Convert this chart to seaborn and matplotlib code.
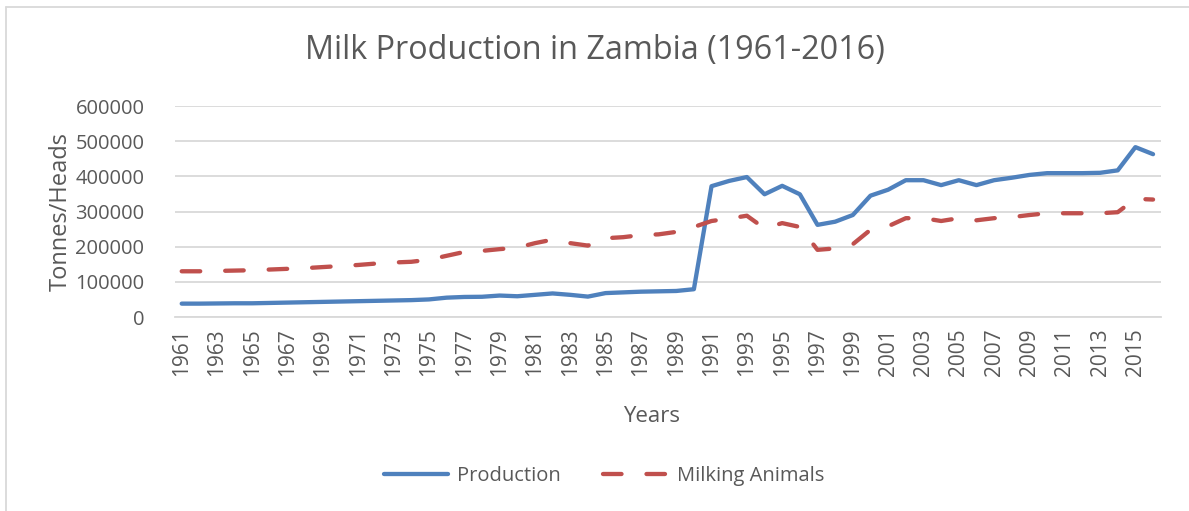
"""Milk production in Zambia, 1961-2016 — line chart recreation."""

import matplotlib

matplotlib.use("Agg")
import matplotlib.pyplot as plt  # noqa: E402
import pandas as pd  # noqa: E402
import seaborn as sns  # noqa: E402
from matplotlib.lines import Line2D  # noqa: E402

years = list(range(1961, 2017))

production = [
    38000, 38000, 38500, 39000, 39000, 40000, 41000, 42000, 43000, 44000,
    45000, 46000, 47000, 48000, 50000, 55000, 57000, 57500, 61000, 59000,
    63000, 67000, 63000, 58000, 68000, 70000, 72000, 73000, 74000, 79000,
    372000, 387000, 398000, 349000, 373000, 349000, 262000, 271000, 290000, 345000,
    362000, 389000, 389000, 375000, 389000, 375000, 389000, 396000, 404000, 409000,
    409000, 409000, 410000, 417000, 483000, 463000,
]

milking_animals = [
    130000, 130000, 131000, 132000, 133000, 135000, 137000, 139000, 142000, 145000,
    148000, 152000, 155000, 157000, 163000, 174000, 185000, 188000, 193000, 197000,
    210000, 220000, 210000, 203000, 224000, 227000, 233000, 235000, 242000, 256000,
    273000, 280000, 288000, 252000, 267000, 256000, 191000, 195000, 207000, 248000,
    258000, 281000, 281000, 273000, 281000, 275000, 281000, 284000, 290000, 295000,
    295000, 295000, 295000, 298000, 336000, 334000,
]

series_names = ["Production", "Milking Animals"]
year_ticks = list(range(1961, 2017, 2))
y_ticks = [0, 100000, 200000, 300000, 400000, 500000, 600000]

BLUE = "#4F81BD"
RED = "#C0504D"
TEXT = "#595959"
GRID = "#D9D9D9"

sns.set_theme(style="white")
plt.rcParams["font.family"] = ["Open Sans", "DejaVu Sans"]

df = pd.DataFrame({"Year": years, series_names[0]: production,
                   series_names[1]: milking_animals})

fig = plt.figure(figsize=(11.89, 5.11), dpi=100)
ax = fig.add_axes([175 / 1189, 1 - 317 / 511, (1161 - 175) / 1189, (317 - 106) / 511])

sns.lineplot(data=df, x="Year", y=series_names[0], ax=ax, color=BLUE,
             linewidth=3.1, solid_capstyle="round", solid_joinstyle="round")
sns.lineplot(data=df, x="Year", y=series_names[1], ax=ax, color=RED,
             linewidth=3.1, dashes=False)
ax.lines[-1].set_dashes((4.3, 5.8))
ax.lines[-1].set_dash_capstyle("round")

ax.set_xlim(1960.62, 2016.45)
ax.set_ylim(0, 600000)
ax.set_xticks(year_ticks)
ax.set_xticklabels([str(y) for y in year_ticks], rotation=90)
ax.set_yticks(y_ticks)
ax.set_yticklabels([str(v) for v in y_ticks])
ax.tick_params(axis="both", labelsize=14.5, colors=TEXT, length=0, pad=8)
ax.tick_params(axis="x", labelsize=15)
ax.tick_params(axis="y", pad=22)
ax.grid(axis="y", color=GRID, linewidth=1.3)
ax.set_axisbelow(True)
for side in ["top", "right", "left"]:
    ax.spines[side].set_visible(False)
ax.spines["bottom"].set_color(GRID)
ax.spines["bottom"].set_linewidth(1.3)

ax.set_xlabel("Years", fontsize=16, color=TEXT)
ax.xaxis.set_label_coords((652 - 175) / (1161 - 175), -0.42)
ax.set_ylabel("Tonnes/Heads", fontsize=17, color=TEXT, labelpad=2)

fig.text(0.5, 1 - 50 / 511, "Milk Production in Zambia (1961-2016)",
         ha="center", va="center", fontsize=23.3, color=TEXT)

handles = [
    Line2D([], [], color=BLUE, linewidth=3.1, solid_capstyle="round"),
    Line2D([], [], color=RED, linewidth=3.1, dashes=(4.3, 5.8),
           dash_capstyle="round"),
]
fig.legend(handles, series_names, loc="center", bbox_to_anchor=(604 / 1189, 1 - 476 / 511),
           ncol=2, frameon=False, fontsize=14.5, labelcolor=TEXT,
           handlelength=3.2, handletextpad=0.45, columnspacing=2.1)

# chart-area border (only top and left are visible in the crop)
fig.add_artist(Line2D([6 / 1189, 6 / 1189], [0, 1 - 7 / 511], color=GRID, linewidth=1.3))
fig.add_artist(Line2D([6 / 1189, 1], [1 - 7 / 511, 1 - 7 / 511], color=GRID, linewidth=1.3))

fig.savefig("out.png", dpi=100)
plt.close(fig)
